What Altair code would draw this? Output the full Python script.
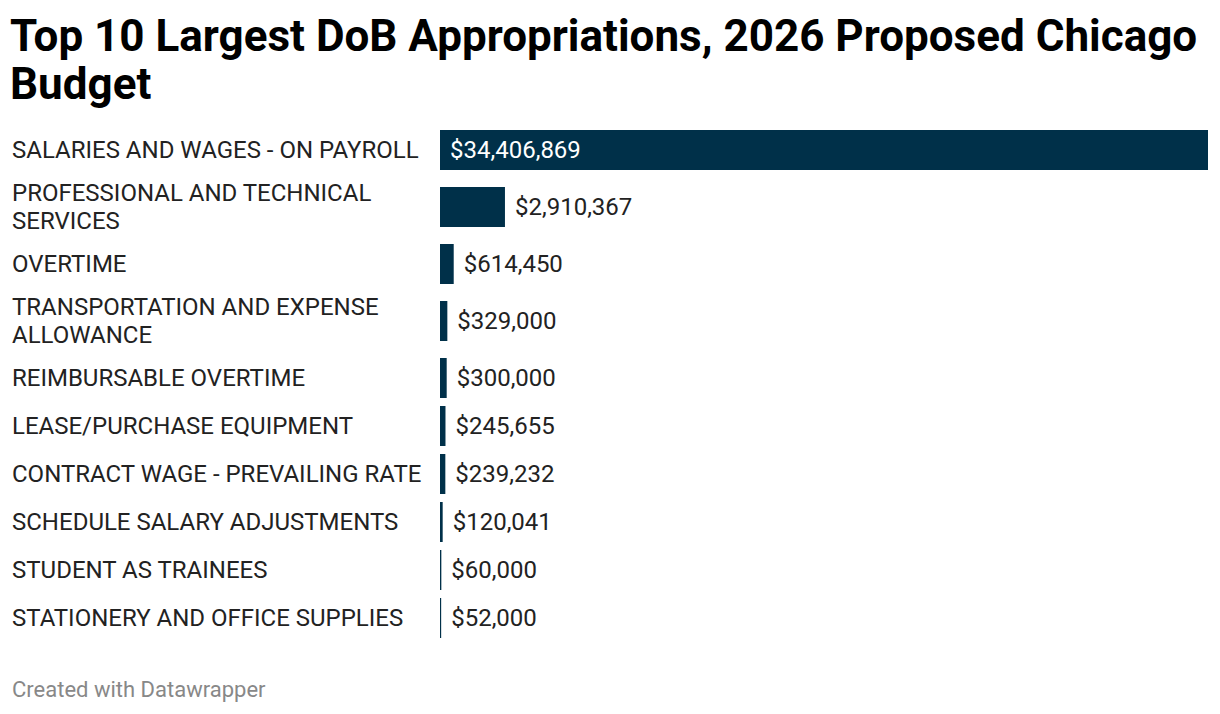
import altair as alt
import pandas as pd

categories = [
    "SALARIES AND WAGES - ON PAYROLL",
    "PROFESSIONAL AND TECHNICAL\nSERVICES",
    "OVERTIME",
    "TRANSPORTATION AND EXPENSE\nALLOWANCE",
    "REIMBURSABLE OVERTIME",
    "LEASE/PURCHASE EQUIPMENT",
    "CONTRACT WAGE - PREVAILING RATE",
    "SCHEDULE SALARY ADJUSTMENTS",
    "STUDENT AS TRAINEES",
    "STATIONERY AND OFFICE SUPPLIES",
]
values = [34406869, 2910367, 614450, 329000, 300000, 245655, 239232, 120041, 60000, 52000]
title_lines = ["Top 10 Largest DoB Appropriations, 2026 Proposed Chicago", "Budget"]
footer_text = "Created with Datawrapper"

BAR = "#003049"
ROW_SINGLE = 48
ROW_DOUBLE = 66
BAR_H = 40
LINE_H = 28

df = pd.DataFrame({"label": categories, "value": values})
df["lines"] = df["label"].str.count("\n") + 1
df["row_h"] = df["lines"].map(lambda n: ROW_SINGLE if n == 1 else ROW_DOUBLE)
df["top"] = df["row_h"].cumsum() - df["row_h"]
df["center"] = df["top"] + df["row_h"] / 2
df["label_y"] = df["center"] - (df["lines"] - 1) * LINE_H / 2
df["y0"] = df["center"] - BAR_H / 2
df["y1"] = df["center"] + BAR_H / 2
df["vtext"] = df["value"].map(lambda v: "$" + format(v, ","))
df["inside"] = df["value"] > 0.2 * df["value"].max()
total_h = int(df["row_h"].sum())

xs = alt.Scale(domain=[0, max(values)], nice=False, zero=True)
ys = alt.Scale(domain=[0, total_h], reverse=True, nice=False, zero=True)

base = alt.Chart(df)

bars = base.mark_rect(color=BAR).encode(
    x=alt.X("value:Q", scale=xs, axis=None),
    x2=alt.datum(0),
    y=alt.Y("y0:Q", scale=ys, axis=None),
    y2="y1:Q",
)

labels = base.mark_text(
    align="left", baseline="middle", font="Roboto", fontSize=24, dy=1,
    color="#222222", lineBreak="\n", lineHeight=LINE_H,
).encode(
    x=alt.value(-428),
    y=alt.Y("label_y:Q", scale=ys, axis=None),
    text="label:N",
)

vin = base.transform_filter("datum.inside").mark_text(
    align="left", baseline="middle", font="Roboto", fontSize=24, color="#ffffff", dy=1,
).encode(
    x=alt.value(10),
    y=alt.Y("center:Q", scale=ys, axis=None),
    text="vtext:N",
)

vout = base.transform_filter("!datum.inside").mark_text(
    align="left", baseline="middle", font="Roboto", fontSize=24, color="#222222", dx=10, dy=1,
).encode(
    x=alt.X("value:Q", scale=xs, axis=None),
    y=alt.Y("center:Q", scale=ys, axis=None),
    text="vtext:N",
)

footer = alt.Chart(pd.DataFrame({"t": [footer_text]})).mark_text(
    align="left", baseline="middle", font="Roboto", fontSize=22, color="#888888",
).encode(
    x=alt.value(-428),
    y=alt.value(total_h + 48),
    text="t:N",
)

chart = alt.layer(bars, labels, vin, vout, footer).properties(
    width=768,
    height=total_h,
    padding={"left": 432, "top": 118, "right": 4, "bottom": 70},
    autosize="none",
    title=alt.TitleParams(
        text=title_lines, anchor="start", dx=-2, fontSize=44, fontWeight="bold",
        font="Roboto", color="#000000", lineHeight=48, offset=18,
    ),
).configure_view(stroke=None)

chart.save("out.html", embed_options={"renderer": "svg", "actions": False})
